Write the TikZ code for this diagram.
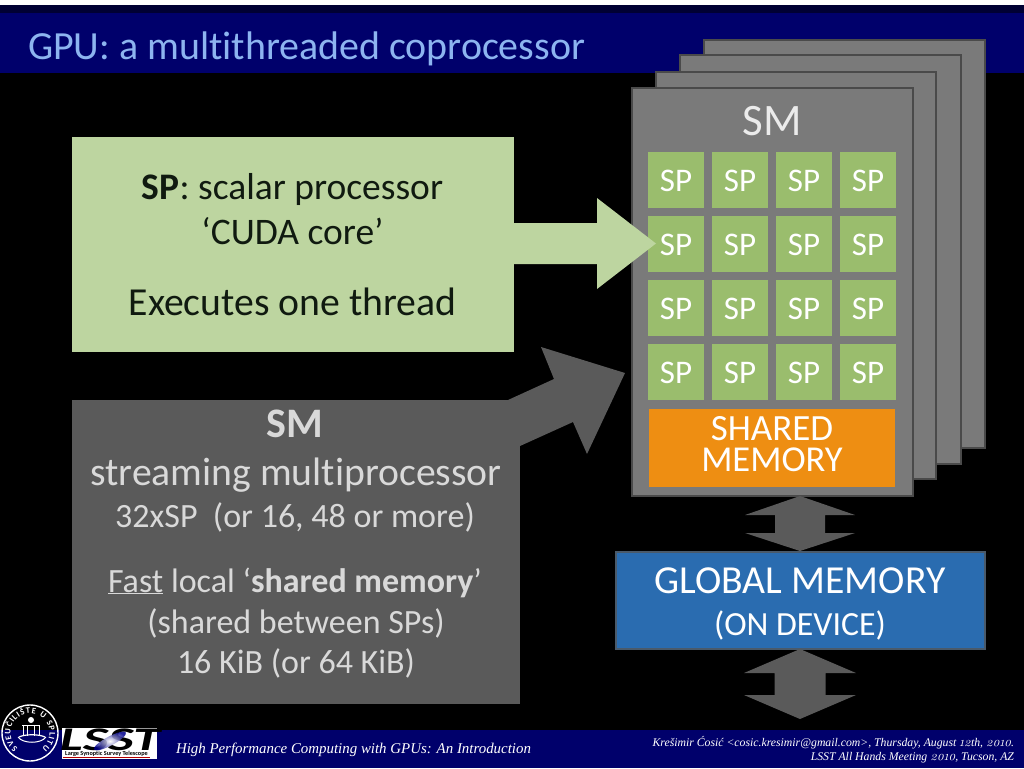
\documentclass[tikz,border=0pt]{standalone}
\usepackage{fontspec}
\setmainfont[Ligatures=CommonOff]{Carlito}
\newfontfamily\footfont{Liberation Serif}
\newfontfamily\oldnums[Numbers=OldStyle,Scale=1.12]{Latin Modern Roman}
\newcommand\osn[1]{{\oldnums\itshape #1}}
\usetikzlibrary{decorations.text}
\definecolor{bandnavy}{HTML}{00006B}
\definecolor{topdark}{HTML}{000033}
\definecolor{titleblue}{HTML}{8DB4F0}
\definecolor{smfill}{HTML}{7A7A7A}
\definecolor{smline}{HTML}{4A4A4A}
\definecolor{spfill}{HTML}{9ABD6D}
\definecolor{palegreen}{HTML}{BDD5A0}
\definecolor{darkgrey}{HTML}{5A5A5A}
\definecolor{orangefill}{HTML}{EE8E12}
\definecolor{globalblue}{HTML}{2A6CB0}
\definecolor{globalline}{HTML}{4A5A6A}
\definecolor{greytext}{HTML}{D9D9D9}
\definecolor{inktext}{HTML}{101A10}
\newcommand\fs[1]{\fontsize{#1}{#1}\selectfont}
\tikzset{
  txt/.style={anchor=base,inner sep=0pt,outer sep=0pt},
  smcard/.style={draw=smline,fill=smfill,line width=2.6pt},
  spbox/.style={fill=spfill,draw=none,minimum width=56pt,minimum height=56pt,inner sep=0pt,outer sep=0pt},
  sptext/.style={txt,text=white,font=\fs{33}},
  blockdark/.style={fill=darkgrey,draw=none},
}
\begin{document}
\begin{tikzpicture}[x=1pt,y=-1pt]
\useasboundingbox (0,0) rectangle (1024,768);
\fill[black] (0,0) rectangle (1024,768);
% bands
\fill[white] (0,0) rectangle (1024,5);
\fill[topdark] (0,5) rectangle (1024,13);
\fill[bandnavy] (0,13) rectangle (1024,73);
\fill[bandnavy] (0,730) rectangle (1024,768);
\node[txt,anchor=base west,text=titleblue,font=\fs{39.9}] (title) at (28,59.5) {GPU: a multithreaded coprocessor};
% stacked SM cards
\draw[smcard] (704,40) rectangle (985,448);
\draw[smcard] (680,55) rectangle (961,464);
\draw[smcard] (656,72) rectangle (936,479);
\draw[smcard] (632,88) rectangle (913,496);
\node[txt,text=white!92!black,font=\fs{45}] (smtitle) at (772,135.5) {SM};
% SP grid
\foreach \c [count=\i] in {676,740,804,868}{
  \foreach \r [count=\j] in {180,244,308,372}{
    \node[spbox] (sp\i\j) at (\c,\r) {};
    \node[sptext] (sptxt\i\j) at (\c,\r+11) {SP};
  }
}
% shared memory
\fill[orangefill] (649,409) rectangle (895,487);
\node[txt,text=white,font=\fs{37}] (shared) at (772,440) {SHARED};
\node[txt,text=white,font=\fs{36.5}] (memory) at (772,471) {MEMORY};
% global memory
\draw[draw=globalline,fill=globalblue,line width=2pt] (615.5,551.5) rectangle (985,648.5);
\node[txt,text=white,font=\fs{39.7}] (gm) at (800,593) {GLOBAL MEMORY};
\node[txt,text=white,font=\fs{33.8}] (ond) at (800,635) {(ON DEVICE)};
% double arrows
\fill[blockdark] (800,496) -- (855,515) -- (825,515) -- (825,533) -- (855,533) -- (800,551) -- (745,533) -- (775,533) -- (775,515) -- (745,515) -- cycle;
\fill[blockdark] (800,649) -- (856,673) -- (825.5,673) -- (825.5,695) -- (856,695) -- (800,719) -- (744,695) -- (774.5,695) -- (774.5,673) -- (744,673) -- cycle;
% green callout
\fill[palegreen] (72,137) rectangle (514,352);
\fill[palegreen] (514,223) -- (597,223) -- (597,198) -- (656,243.5) -- (597,289) -- (597,264) -- (514,264) -- cycle;
\node[txt,text=inktext,font=\fs{37.5}] (g1) at (292.5,199.5) {\textbf{SP}: scalar processor};
\node[txt,text=inktext,font=\fs{37.5}] (g2) at (292.5,244.5) {‘CUDA core’};
\node[txt,text=inktext,font=\fs{39.7}] (g3) at (292.5,315.5) {Executes one thread};
% grey callout
\fill[darkgrey] (72,400) rectangle (520,704);
\fill[darkgrey] (508,400) -- (554,379) -- (541,347) -- (625,373) -- (587,454) -- (573,422) -- (520,446) -- cycle;
\node[txt,text=greytext,font=\fs{42}] (s1) at (295,437) {\textbf{SM}};
\node[txt,text=greytext,font=\fs{39.7}] (s2) at (296,485) {streaming multiprocessor};
\node[txt,text=greytext,font=\fs{34}] (s3) at (295,527) {32xSP\ \ (or 16, 48 or more)};
\node[txt,text=greytext,font=\fs{34}] (s4) at (295,592) {\underline{Fast} local ‘\textbf{shared memory}’};
\node[txt,text=greytext,font=\fs{34}] (s5) at (296,633) {(shared between SPs)};
\node[txt,text=greytext,font=\fs{34}] (s6) at (296,673.5) {16 KiB (or 64 KiB)};
% footer text
\node[txt,anchor=base west,text=white,font=\footfont\itshape\fs{14.9}] (f1) at (176,753) {High Performance Computing with GPUs: An Introduction};
\node[txt,anchor=base east,text=white,font=\footfont\itshape\fs{11.75}] (f2) at (1014,746) {Krešimir Ćosić <cosic.kresimir@gmail.com>, Thursday, August \osn{12}th, \osn{2010}.};
\node[txt,anchor=base east,text=white,font=\footfont\itshape\fs{11.75}] (f3) at (1014,760) {LSST All Hands Meeting \osn{2010}, Tucson, AZ};
% university seal
\begin{scope}[shift={(30pt,-733pt)},x=1pt,y=1pt]
\draw[white,line width=1.4pt] (0,0) circle (28);
\path[decorate,decoration={text along path,text align=fit to path,
   text={|\bfseries\fs{8.5}\color{white}|SVEUČILIŠTE U SPLITU}}]
   (232:19.5) arc[start angle=232,end angle=-52,radius=19.5];
\fill[white] (1,13) circle (3);
\draw[white,line width=.9pt] (-8,8) -- (10,8) (-7,8) -- (-7,-3) (9,8) -- (9,-3) (-2.5,8) -- (-2.5,-3) (4,8) -- (4,-3);
\draw[white,line width=1.2pt] (-11,-4) .. controls (-5,-1) and (9,-1) .. (15,-4);
\draw[white,line width=1pt] (-12,-4) .. controls (-7,-11) and (11,-11) .. (16,-4);
\end{scope}
% LSST logo
\fill[white] (62,728) rectangle (157,758.5);
\node[txt,text=black,xscale=1.65,font=\bfseries\itshape\fs{33}] (lsst) at (110,750) {LSST};
\shade[inner color=white,outer color=blue!55!black,opacity=.85,rotate around={28:(110,741)}] (110,741) ellipse (18 and 4.5);
\node[txt,text=black,font=\bfseries\fs{6.2}] (tag) at (106.5,755.7) {Large Synoptic Survey Telescope};
\fill[red!70!black] (63,757.4) rectangle (150,758.2);
\end{tikzpicture}
\end{document}
